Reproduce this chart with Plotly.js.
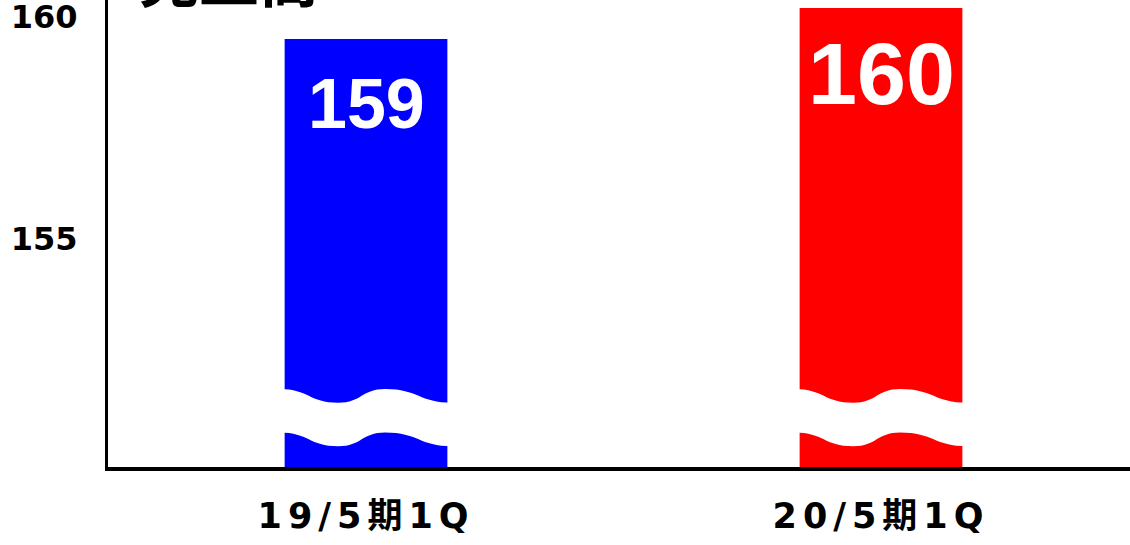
<!DOCTYPE html>
<html><head><meta charset="utf-8">
<script src="https://cdn.plot.ly/plotly-3.0.1.min.js"></script>
<style>body{margin:0;background:#fff} .xtick text{letter-spacing:6px}</style>
</head><body>
<div id="chart" style="width:1130px;height:545px"></div>
<script>
const categories = ["19/5期1Q", "20/5期1Q"];
const values = [159.5, 160.2];
const valueLabels = ["159", "160"];
const chartTitle = "売上高";
const yTickVals = [155, 160];
const yTickText = ["155", "160"];

const barColors = ["#0000ff", "#ff0000"];
const labelSizes = [70, 88];
const labelShifts = [-24, -14];
const barWidth = 0.316;
const xPos = categories.map((c, i) => i);

// break (wave) decoration, in axis units
const waveHigh = 151.6, waveLow = 151.29, waveGap = 0.98;

function wavePath(c) {
  const xL = c - barWidth / 2 - 0.01, xR = c + barWidth / 2 + 0.01;
  const w = xR - xL;
  const p = t => xL + t * w;
  const a = 0.0, b = 0.34, d = 0.61, e = 1.0;
  const H = waveHigh, L = waveLow, H2 = waveHigh - waveGap, L2 = waveLow - waveGap;
  let s = `M ${p(a)} ${H}`;
  s += ` C ${p((a+b)/2)} ${H}, ${p((a+b)/2)} ${L}, ${p(b)} ${L}`;
  s += ` C ${p((b+d)/2)} ${L}, ${p((b+d)/2)} ${H}, ${p(d)} ${H}`;
  s += ` C ${p((d+e)/2)} ${H}, ${p((d+e)/2)} ${L}, ${p(e)} ${L}`;
  s += ` L ${p(e)} ${L2}`;
  s += ` C ${p((d+e)/2)} ${L2}, ${p((d+e)/2)} ${H2}, ${p(d)} ${H2}`;
  s += ` C ${p((b+d)/2)} ${H2}, ${p((b+d)/2)} ${L2}, ${p(b)} ${L2}`;
  s += ` C ${p((a+b)/2)} ${L2}, ${p((a+b)/2)} ${H2}, ${p(a)} ${H2}`;
  s += ` Z`;
  return s;
}

const trace = {
  type: "bar",
  x: xPos,
  y: values,
  width: barWidth,
  marker: { color: barColors, line: { width: 0 } },
  hoverinfo: "skip"
};

const annotations = xPos.map((x, i) => ({
  x: x, y: values[i], xref: "x", yref: "y",
  text: valueLabels[i], showarrow: false,
  xanchor: "center", yanchor: "top", yshift: labelShifts[i],
  font: { family: "Liberation Sans, Arial, sans-serif", size: labelSizes[i], color: "#ffffff", weight: "bold" }
}));
annotations.push({
  xref: "paper", yref: "paper", x: 0.028, y: 1, xanchor: "left", yanchor: "bottom", yshift: -21,
  text: chartTitle, showarrow: false,
  font: { family: "Noto Sans CJK JP, sans-serif", size: 60, color: "#000", weight: "bold" }
});

const layout = {
  width: 1130, height: 545,
  margin: { l: 108, r: 0, t: 0, b: 78, pad: 0 },
  paper_bgcolor: "#fff", plot_bgcolor: "#fff",
  showlegend: false,
  xaxis: {
    range: [-0.501, 1.4835], tickvals: xPos, ticktext: categories,
    showgrid: false, zeroline: false, showline: true, linecolor: "#000", linewidth: 4,
    ticks: "", ticklabelstandoff: 15, automargin: false,
    tickfont: { family: "DejaVu Sans, Noto Sans CJK JP, sans-serif", size: 35, color: "#000", weight: "bold" }
  },
  yaxis: {
    range: [149.84, 160.38], tickvals: yTickVals, ticktext: yTickText,
    showgrid: false, zeroline: false, showline: true, linecolor: "#000", linewidth: 3,
    ticks: "", ticklabelstandoff: 21, ticklabeloverflow: "allow", automargin: false,
    tickfont: { family: "DejaVu Sans, sans-serif", size: 32, color: "#000", weight: "bold" }
  },
  annotations: annotations,
  shapes: xPos.map(x => ({
    type: "path", xref: "x", yref: "y", path: wavePath(x),
    fillcolor: "#ffffff", line: { width: 0 }, layer: "above"
  }))
};

Plotly.newPlot("chart", [trace], layout, { displayModeBar: false, staticPlot: true });
</script>
</body></html>
